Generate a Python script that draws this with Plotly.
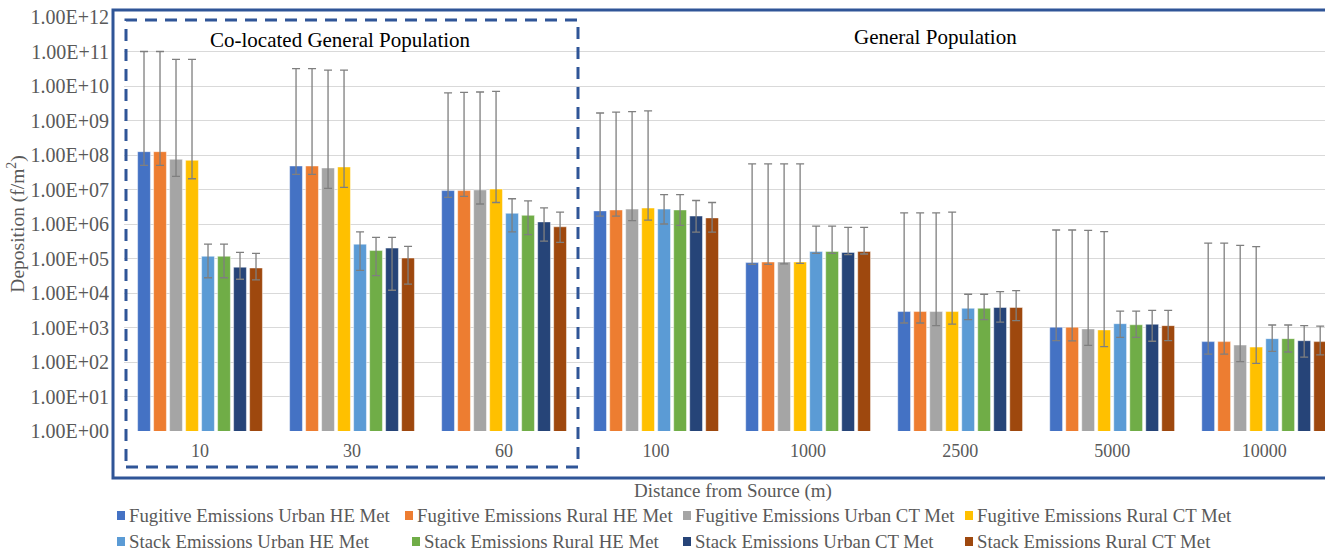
import plotly.graph_objects as go

categories = ["10", "30", "60", "100", "1000", "2500", "5000", "10000"]

series_names = [
    "Fugitive Emissions Urban HE Met",
    "Fugitive Emissions Rural HE Met",
    "Fugitive Emissions Urban CT Met",
    "Fugitive Emissions Rural CT Met",
    "Stack Emissions Urban HE Met",
    "Stack Emissions Rural HE Met",
    "Stack Emissions Urban CT Met",
    "Stack Emissions Rural CT Met",
]
colors = ["#4472C4", "#ED7D31", "#A5A5A5", "#FFC000",
          "#5B9BD5", "#70AD47", "#264478", "#9E480E"]

fug_urban_he = [1.25e8, 4.8e7, 9.3e6, 2.4e6, 7.6e4, 2.9e3, 1.02e3, 3.9e2]
fug_rural_he = [1.25e8, 4.8e7, 9.3e6, 2.55e6, 7.9e4, 2.9e3, 1.02e3, 3.9e2]
fug_urban_ct = [7.5e7, 4.2e7, 9.7e6, 2.7e6, 7.9e4, 2.9e3, 9.1e2, 3.1e2]
fug_rural_ct = [7.0e7, 4.5e7, 1.03e7, 2.9e6, 7.9e4, 2.9e3, 8.5e2, 2.7e2]
stk_urban_he = [1.16e5, 2.6e5, 2.04e6, 2.7e6, 1.6e5, 3.6e3, 1.29e3, 4.75e2]
stk_rural_he = [1.16e5, 1.7e5, 1.78e6, 2.55e6, 1.6e5, 3.6e3, 1.2e3, 4.75e2]
stk_urban_ct = [5.6e4, 2.0e5, 1.15e6, 1.7e6, 1.5e5, 3.8e3, 1.24e3, 4.15e2]
stk_rural_ct = [5.3e4, 1.03e5, 8.3e5, 1.5e6, 1.6e5, 3.8e3, 1.13e3, 3.9e2]

upper_fug_urban_he = [1.0e11, 3.2e10, 6.3e9, 1.65e9, 5.5e7, 2.1e6, 6.7e5, 2.8e5]
upper_fug_rural_he = [1.0e11, 3.2e10, 6.5e9, 1.75e9, 5.5e7, 2.1e6, 6.7e5, 2.8e5]
upper_fug_urban_ct = [5.9e10, 2.9e10, 6.7e9, 1.8e9, 5.5e7, 2.1e6, 6.5e5, 2.4e5]
upper_fug_rural_ct = [5.9e10, 2.9e10, 7.0e9, 1.9e9, 5.5e7, 2.2e6, 6.0e5, 2.2e5]
upper_stk_urban_he = [2.6e5, 5.9e5, 5.4e6, 7.1e6, 8.7e5, 9.2e3, 3.0e3, 1.18e3]
upper_stk_rural_he = [2.6e5, 4.1e5, 4.7e6, 7.1e6, 8.7e5, 9.2e3, 3.0e3, 1.18e3]
upper_stk_urban_ct = [1.5e5, 4.1e5, 2.95e6, 4.8e6, 8.0e5, 1.1e4, 3.15e3, 1.13e3]
upper_stk_rural_ct = [1.4e5, 2.25e5, 2.2e6, 4.2e6, 8.0e5, 1.17e4, 3.15e3, 1.1e3]

lower_fug_urban_he = [5.0e7, 2.75e7, 5.9e6, 1.7e6, 6.8e4, 1.35e3, 4.15e2, 1.7e2]
lower_fug_rural_he = [5.0e7, 2.75e7, 6.3e6, 1.7e6, 6.8e4, 1.35e3, 4.1e2, 1.7e2]
lower_fug_urban_ct = [2.4e7, 1.08e7, 3.8e6, 1.25e6, 7.0e4, 1.13e3, 3.05e2, 1.02e2]
lower_fug_rural_ct = [2.05e7, 1.15e7, 4.2e6, 1.3e6, 7.2e4, 1.26e3, 2.8e2, 9.1e1]
lower_stk_urban_he = [2.77e4, 4.5e4, 5.9e5, 1.0e6, 1.4e5, 1.7e3, 5.2e2, 2.04e2]
lower_stk_rural_he = [2.77e4, 3.2e4, 4.9e5, 9.1e5, 1.4e5, 1.7e3, 5.2e2, 1.95e2]
lower_stk_urban_ct = [2.5e4, 1.2e4, 3.2e5, 5.8e5, 1.3e5, 1.44e3, 4.0e2, 1.38e2]
lower_stk_rural_ct = [2.4e4, 1.8e4, 2.95e5, 5.8e5, 1.35e5, 1.58e3, 4.15e2, 1.6e2]

tick_vals = [10 ** k for k in range(13)]
tick_text = ["1.00E+%02d" % k for k in range(13)]

values = [fug_urban_he, fug_rural_he, fug_urban_ct, fug_rural_ct,
          stk_urban_he, stk_rural_he, stk_urban_ct, stk_rural_ct]
uppers = [upper_fug_urban_he, upper_fug_rural_he, upper_fug_urban_ct, upper_fug_rural_ct,
          upper_stk_urban_he, upper_stk_rural_he, upper_stk_urban_ct, upper_stk_rural_ct]
lowers = [lower_fug_urban_he, lower_fug_rural_he, lower_fug_urban_ct, lower_fug_rural_ct,
          lower_stk_urban_he, lower_stk_rural_he, lower_stk_urban_ct, lower_stk_rural_ct]

FONT = "Liberation Serif"
GRAY = "#595959"
FRAME = "#2F5597"

W, H = 1325, 552
L, R_PX, T, B_PX = 124, 1325, 17, 431


def px(xp):
    return (xp - L) / (R_PX - L)


def py(yp):
    return (B_PX - yp) / (B_PX - T)


fig = go.Figure()
for name, col, v, up, lo in zip(series_names, colors, values, uppers, lowers):
    fig.add_trace(go.Bar(
        name=name, x=categories, y=v,
        marker=dict(color=col, line=dict(color="rgba(255,255,255,0.45)", width=1)),
        error_y=dict(type="data", symmetric=False,
                     array=[u - a for u, a in zip(up, v)],
                     arrayminus=[a - l for a, l in zip(v, lo)],
                     color="#7F7F7F", thickness=1.3, width=4),
        showlegend=False,
    ))

shapes = [
    dict(type="rect", xref="paper", yref="paper",
         x0=px(113), x1=px(1332), y0=py(478), y1=py(10),
         line=dict(color=FRAME, width=3), fillcolor="rgba(0,0,0,0)", layer="above"),
    dict(type="rect", xref="paper", yref="paper",
         x0=px(126), x1=px(578), y0=py(467), y1=py(20),
         line=dict(color=FRAME, width=3, dash="12px,8px"),
         fillcolor="rgba(0,0,0,0)", layer="above"),
]

annotations = [
    dict(text="Co-located General Population", xref="paper", yref="paper",
         x=px(340), y=py(40), showarrow=False, xanchor="center", yanchor="middle",
         font=dict(family=FONT, size=21, color="#000000")),
    dict(text="General Population", xref="paper", yref="paper",
         x=px(936), y=py(37), showarrow=False, xanchor="center", yanchor="middle",
         font=dict(family=FONT, size=21, color="#000000")),
    dict(text="Distance from Source (m)", xref="paper", yref="paper",
         x=px(733), y=py(491), showarrow=False, xanchor="center", yanchor="middle",
         font=dict(family=FONT, size=19, color=GRAY)),
]

leg_x = [[117, 405, 683, 965], [117, 412, 683, 965]]
leg_y = [515, 541]
for i, (name, col) in enumerate(zip(series_names, colors)):
    r, c = divmod(i, 4)
    x0 = leg_x[r][c]
    yc = leg_y[r]
    shapes.append(dict(type="rect", xref="paper", yref="paper",
                       x0=px(x0), x1=px(x0 + 8), y0=py(yc + 5), y1=py(yc - 4),
                       line=dict(width=0), fillcolor=col))
    annotations.append(dict(text=name, xref="paper", yref="paper",
                            x=px(x0 + 10), y=py(yc), showarrow=False,
                            xanchor="left", yanchor="middle",
                            font=dict(family=FONT, size=18.8, color=GRAY)))

fig.update_layout(
    width=W, height=H,
    margin=dict(l=L, r=W - R_PX, t=T, b=H - B_PX),
    paper_bgcolor="white", plot_bgcolor="white",
    barmode="group", bargap=0.158, bargroupgap=0.2,
    font=dict(family=FONT, size=18, color=GRAY),
    xaxis=dict(type="category", range=[-0.5, 7.40],
               showgrid=False, showline=False, ticks="",
               ticklabelstandoff=7,
               tickfont=dict(family=FONT, size=18, color=GRAY)),
    yaxis=dict(type="log", range=[0, 12], tickvals=tick_vals, ticktext=tick_text,
               showgrid=True, gridcolor="#D9D9D9", gridwidth=1,
               zeroline=False, showline=False, ticks="",
               ticklabelstandoff=14,
               tickfont=dict(family=FONT, size=20, color=GRAY),
               title=dict(text="Deposition (f/m<sup>2</sup>)",
                          font=dict(family=FONT, size=19.5, color=GRAY), standoff=0)),
    shapes=shapes, annotations=annotations,
)

fig.write_html("out.html")
